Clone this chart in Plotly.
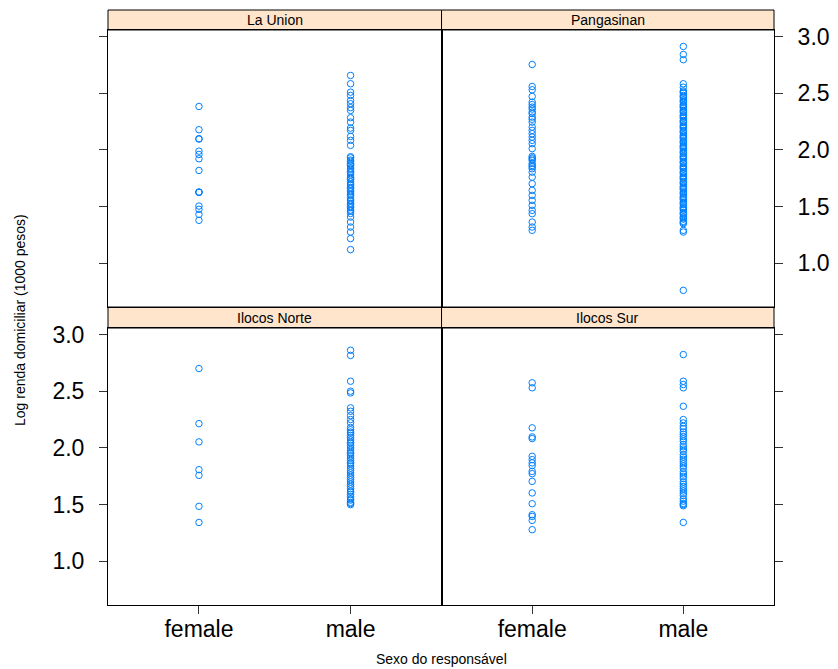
import plotly.graph_objects as go

# ---- data (log household income, 1000 pesos) ----
panels = ["La Union", "Pangasinan", "Ilocos Norte", "Ilocos Sur"]
sex_categories = ["female", "male"]
y_ticks = [1.0, 1.5, 2.0, 2.5, 3.0]

la_union_female = [2.383, 2.178, 2.099, 2.095, 1.989, 1.960, 1.922, 1.819, 1.628, 1.628, 1.625,
                   1.505, 1.476, 1.432, 1.379]
la_union_male = [2.656, 2.583, 2.509, 2.480, 2.436, 2.407, 2.372, 2.348, 2.284, 2.245, 2.192,
                 2.172, 2.119, 2.084, 2.040,
                 1.94, 1.93, 1.91, 1.90, 1.88, 1.87, 1.86, 1.84, 1.83, 1.81, 1.80, 1.78, 1.76,
                 1.75, 1.74, 1.72, 1.70, 1.69, 1.67, 1.66, 1.64, 1.63, 1.61, 1.60, 1.58, 1.56,
                 1.55, 1.53, 1.52, 1.50, 1.49, 1.47, 1.46, 1.44,
                 1.408, 1.364, 1.320, 1.276, 1.218, 1.121]

pangasinan_female = [2.753, 2.559, 2.530, 2.471, 2.421, 2.40, 2.377, 2.333, 2.289, 2.245,
                     2.201, 2.172, 2.143, 2.113, 2.084, 2.055, 2.011, 1.943, 1.907, 1.863,
                     1.834, 1.804, 1.760, 1.702, 1.643, 1.599, 1.555, 1.511, 1.467, 1.438,
                     1.364, 1.320, 1.291, 2.36, 2.32, 2.27, 1.93, 1.92, 1.88, 1.85]
pangasinan_male = [2.912, 2.841, 2.795, 2.583, 2.553,
                   2.52, 2.51, 2.50, 2.48, 2.47, 2.46, 2.44, 2.43, 2.42, 2.40, 2.39, 2.38,
                   2.37, 2.35, 2.34, 2.33, 2.31, 2.30, 2.29, 2.28, 2.26, 2.25, 2.24, 2.22,
                   2.21, 2.20, 2.19, 2.17, 2.16, 2.15, 2.13, 2.12, 2.11, 2.10, 2.08, 2.07,
                   2.06, 2.04, 2.03, 2.02, 2.01, 1.99, 1.98, 1.97, 1.95, 1.94, 1.93, 1.92,
                   1.90, 1.89, 1.88, 1.86, 1.85, 1.84, 1.83, 1.81, 1.80, 1.79, 1.77, 1.76,
                   1.75, 1.74, 1.72, 1.71, 1.70, 1.68, 1.67, 1.66, 1.65, 1.63, 1.62, 1.61,
                   1.59, 1.58, 1.57, 1.56, 1.54, 1.53, 1.52, 1.50, 1.49, 1.48, 1.47, 1.45,
                   1.44, 1.43, 1.41, 1.40, 1.39, 1.37, 1.36, 1.35,
                   1.291, 1.276, 0.762]

ilocos_norte_female = [2.700, 2.214, 2.053, 1.808, 1.758, 1.485, 1.343]
ilocos_norte_male = [2.861, 2.815, 2.588, 2.500, 2.485, 2.353, 2.323, 2.285, 2.250, 2.221,
                     2.18, 2.16, 2.14, 2.13, 2.11, 2.09, 2.07, 2.05, 2.04, 2.02, 2.00, 1.98,
                     1.96, 1.95, 1.93, 1.91, 1.89, 1.87, 1.86, 1.84, 1.82, 1.80, 1.78, 1.76,
                     1.74, 1.72, 1.70, 1.68, 1.66, 1.64, 1.62, 1.61, 1.59, 1.57, 1.55, 1.54,
                     1.52, 1.51, 1.50]

ilocos_sur_female = [2.574, 2.530, 2.177, 2.097, 2.082, 1.926, 1.897, 1.868, 1.844, 1.793,
                     1.773, 1.705, 1.603, 1.508, 1.411, 1.396, 1.361, 1.279]
ilocos_sur_male = [2.823, 2.588, 2.559, 2.530, 2.367,
                   2.25, 2.22, 2.19, 2.17, 2.14, 2.12, 2.10, 2.08, 2.06, 2.03, 2.01, 1.99,
                   1.97, 1.94, 1.92, 1.90, 1.88, 1.86, 1.84, 1.82, 1.79, 1.77, 1.75, 1.73,
                   1.70, 1.68, 1.66, 1.64, 1.62, 1.60, 1.58, 1.55, 1.53, 1.51, 1.50, 1.49,
                   1.343]

panel_data = {
    "La Union": (la_union_female, la_union_male),
    "Pangasinan": (pangasinan_female, pangasinan_male),
    "Ilocos Norte": (ilocos_norte_female, ilocos_norte_male),
    "Ilocos Sur": (ilocos_sur_female, ilocos_sur_male),
}

# ---- layout geometry (paper fractions) ----
W, H = 838, 669
ML, MR, MT, MB = 108, 64, 10, 64
mid_x = 0.5008
x_doms = [[0, mid_x], [mid_x, 1]]
top_plot = [0.5008, 0.9664]
top_strip = [0.9664, 1.0]
bot_plot = [0.0, 0.4655]
bot_strip = [0.4655, 0.5008]

FONT = "Liberation Sans, Arial, Helvetica, sans-serif"
PT_COLOR = "#0080ff"
YR = [0.615, 3.057]
XR = [-0.6, 1.6]

fig = go.Figure()

specs = [
    ("La Union", 0, top_plot, top_strip, "left", False, False),
    ("Pangasinan", 1, top_plot, top_strip, "right", True, False),
    ("Ilocos Norte", 0, bot_plot, bot_strip, "left", True, True),
    ("Ilocos Sur", 1, bot_plot, bot_strip, "right", False, True),
]

shapes = []
annotations = []
for i, (name, col, ydom, sdom, yside, ylabels, xbottom) in enumerate(specs, start=1):
    xa = "x" if i == 1 else f"x{i}"
    ya = "y" if i == 1 else f"y{i}"
    fem, mal = panel_data[name]
    xs = [sex_categories[0]] * len(fem) + [sex_categories[1]] * len(mal)
    ys = list(fem) + list(mal)
    fig.add_trace(go.Scatter(
        x=xs, y=ys, mode="markers", xaxis=xa, yaxis=ya, showlegend=False,
        marker=dict(symbol="circle-open", size=6.5, color=PT_COLOR,
                    line=dict(width=1, color=PT_COLOR)),
        hoverinfo="skip"))

    xkey = "xaxis" if i == 1 else f"xaxis{i}"
    ykey = "yaxis" if i == 1 else f"yaxis{i}"
    fig.layout[xkey] = dict(
        domain=x_doms[col], anchor=ya, type="category",
        categoryorder="array", categoryarray=sex_categories,
        range=XR, showgrid=False, zeroline=False, automargin=False,
        showline=True, mirror=True, linecolor="black", linewidth=1,
        ticks="outside" if xbottom else "", ticklen=8, tickcolor="#333333",
        showticklabels=xbottom, ticklabelstandoff=-5,
        tickfont=dict(family=FONT, size=23, color="black"),
    )
    fig.layout[ykey] = dict(
        domain=ydom, anchor=xa, side=yside, range=YR,
        tickvals=y_ticks, tickformat=".1f", automargin=False,
        showgrid=False, zeroline=False,
        showline=True, mirror=True, linecolor="black", linewidth=1,
        ticks="outside", ticklen=8, tickcolor="#333333",
        showticklabels=ylabels, ticklabelstandoff=10,
        tickfont=dict(family=FONT, size=23, color="black"),
    )
    shapes.append(dict(type="rect", xref="paper", yref="paper",
                       x0=x_doms[col][0], x1=x_doms[col][1], y0=sdom[0], y1=sdom[1],
                       fillcolor="#ffe5cc", line=dict(color="black", width=1), layer="below"))
    annotations.append(dict(text=name, xref="paper", yref="paper",
                            x=(x_doms[col][0] + x_doms[col][1]) / 2,
                            y=(sdom[0] + sdom[1]) / 2, showarrow=False,
                            xanchor="center", yanchor="middle",
                            font=dict(family=FONT, size=14, color="black")))

annotations.append(dict(text="Log renda domiciliar (1000 pesos)", xref="paper", yref="paper",
                        x=(20 - ML) / (W - ML - MR), y=0.479, textangle=-90, showarrow=False,
                        xanchor="center", yanchor="middle",
                        font=dict(family=FONT, size=14, color="black")))
annotations.append(dict(text="Sexo do responsável", xref="paper", yref="paper",
                        x=0.5, y=(605 - 659) / (H - MT - MB), showarrow=False,
                        xanchor="center", yanchor="middle",
                        font=dict(family=FONT, size=14, color="black")))

fig.update_layout(
    width=W, height=H,
    margin=dict(l=ML, r=MR, t=MT, b=MB),
    paper_bgcolor="white", plot_bgcolor="white",
    shapes=shapes, annotations=annotations,
)

fig.write_html("out.html")
